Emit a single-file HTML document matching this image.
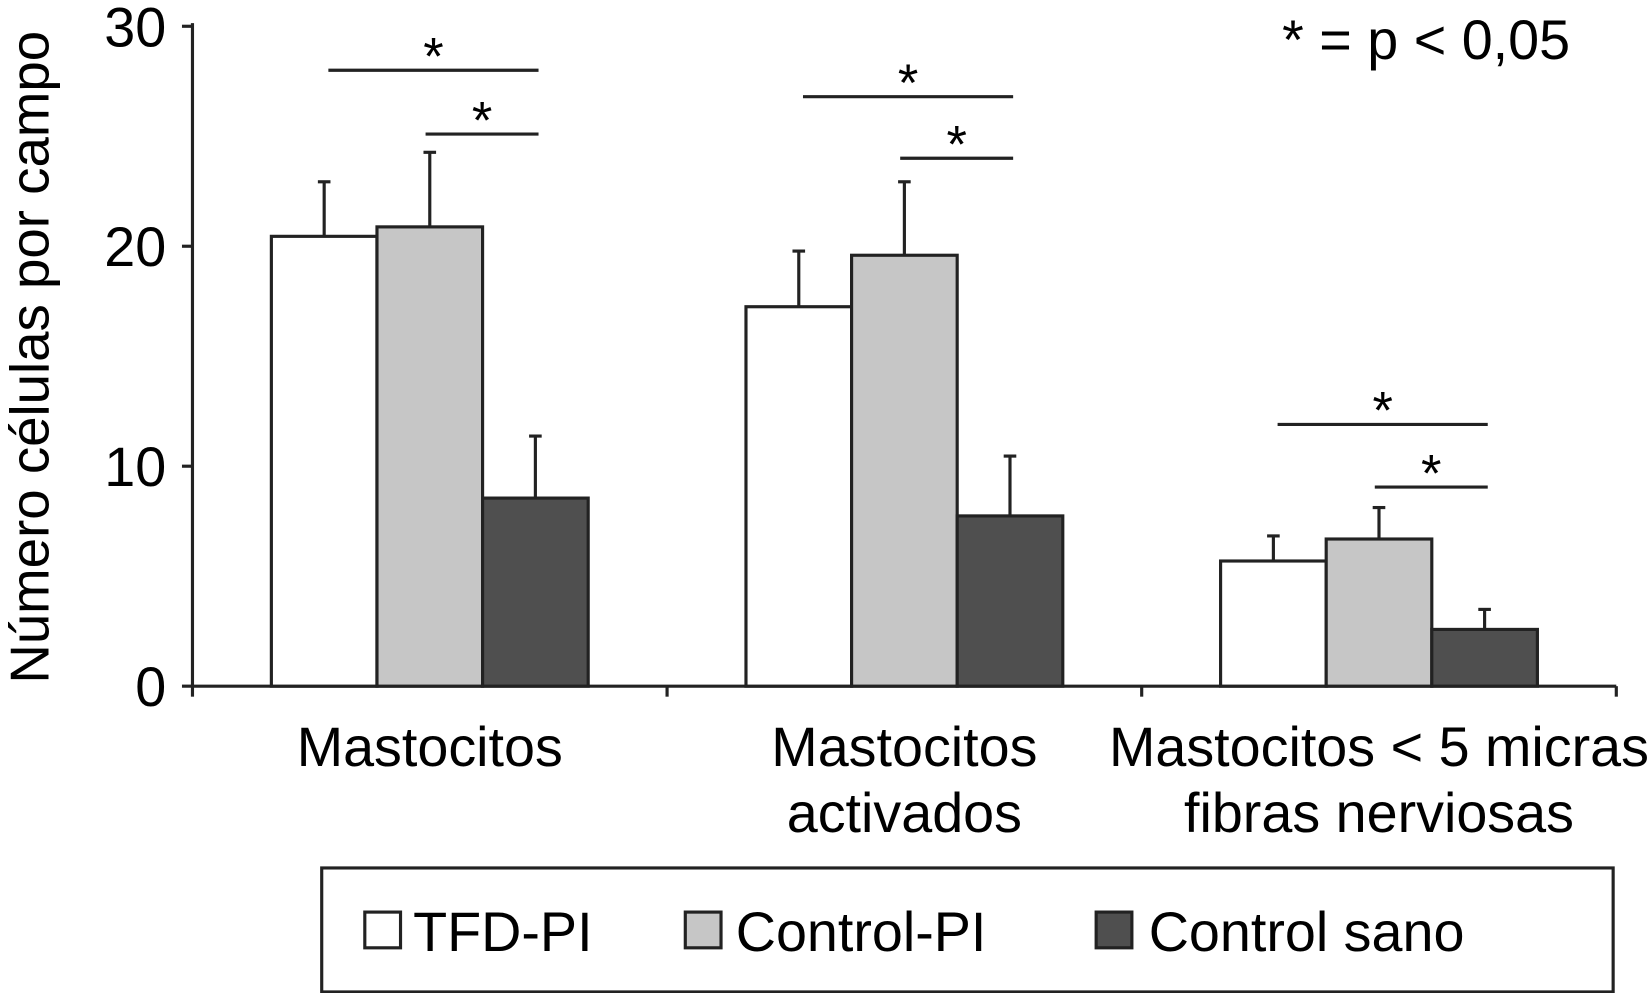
<!DOCTYPE html>
<html><head><meta charset="utf-8"><style>
html,body{margin:0;padding:0;background:#fff}
svg{display:block;font-family:"Liberation Sans",Arial,sans-serif}
</style></head><body>
<svg id="chart" width="1648" height="993" viewBox="0 0 1568 945" xmlns="http://www.w3.org/2000/svg">
<g id="axes"></g>
<g id="bars"></g>
<g id="sig"></g>
<text x="1220" y="56" font-size="53">* = p &lt; 0,05</text>
<text transform="translate(46,340) rotate(-90)" text-anchor="middle" font-size="52">Número células por campo</text>
<g>
<rect x="306" y="826" width="1229" height="118" fill="#fff" stroke="#222" stroke-width="3"/>
<g><rect x="347" y="868" width="34" height="34" fill="#fff" stroke="#222" stroke-width="3"/><text x="393" y="905" font-size="53">TFD-PI</text></g>
<g><rect x="652" y="868" width="34" height="34" fill="#c6c6c6" stroke="#222" stroke-width="3"/><text x="700" y="905" font-size="53">Control-PI</text></g>
<g><rect x="1043" y="868" width="34" height="34" fill="#4f4f4f" stroke="#222" stroke-width="3"/><text x="1093" y="905" font-size="53">Control sano</text></g>
</g>
</svg>
<script>
const categories=[["Mastocitos"],["Mastocitos","activados"],["Mastocitos < 5 micras","fibras nerviosas"]];
const tfdPI=[20.45,17.25,5.69];
const controlPI=[20.88,19.59,6.69];
const controlSano=[8.55,7.74,2.58];
const tfdErr=[2.48,2.53,1.14];
const controlErr=[3.39,3.34,1.43];
const sanoErr=[2.82,2.72,0.91];
const yTicks=[0,10,20,30];
const sigY=[28,25.1,26.8,24,11.9,9.05];

const NS="http://www.w3.org/2000/svg";
const x0=183,xEnd=1538,yBase=653,yTop=25,yMax=30;
const gw=(xEnd-x0)/categories.length, bw=100.5;
const y=v=>yBase-(v/yMax)*(yBase-yTop);
const gc=i=>x0+gw*(i+0.5);
function el(tag,attrs,parent,txt){const e=document.createElementNS(NS,tag);for(const k in attrs)e.setAttribute(k,attrs[k]);if(txt!=null)e.textContent=txt;parent.appendChild(e);return e;}
const axes=document.getElementById('axes'),bars=document.getElementById('bars'),sig=document.getElementById('sig');
let a=el('line',{x1:x0,y1:yTop-3,x2:x0,y2:yBase,stroke:'#222','stroke-width':3},axes);


a=el('line',{x1:x0,y1:yBase,x2:xEnd,y2:yBase,stroke:'#222','stroke-width':3},axes);


yTicks.forEach(t=>{
  el('line',{x1:x0-10,y1:y(t),x2:x0,y2:y(t),stroke:'#222','stroke-width':3},axes);
  const tx=el('text',{x:x0-25,y:y(t)+19,'text-anchor':'end','font-size':53},axes,String(t));
  
  
});
for(let i=0;i<=categories.length;i++){el('line',{x1:x0+gw*i,y1:yBase,x2:x0+gw*i,y2:yBase+10,stroke:'#222','stroke-width':3},axes);}
categories.forEach((c,i)=>{c.forEach((ln,j)=>{
  const tx=el('text',{x:gc(i),y:729+j*63,'text-anchor':'middle','font-size':53},axes,ln);
  
  
});});
const series=[[tfdPI,tfdErr,'#fff','tfd-pi'],[controlPI,controlErr,'#c6c6c6','control-pi'],[controlSano,sanoErr,'#4f4f4f','control-sano']];
categories.forEach((c,i)=>{
  series.forEach((s,k)=>{
    const bx=gc(i)-1.5*bw+k*bw, v=s[0][i], e=s[1][i], cx=bx+bw/2;
    el('line',{x1:cx,y1:y(v),x2:cx,y2:y(v+e),stroke:'#222','stroke-width':3},bars);
    el('line',{x1:cx-6,y1:y(v+e),x2:cx+6,y2:y(v+e),stroke:'#222','stroke-width':3},bars);
    const r=el('rect',{x:bx,y:y(v),width:bw,height:yBase-y(v),fill:s[2],stroke:'#222','stroke-width':3},bars);
    
    
  });
  [0,1].forEach(j=>{
    const from=gc(i)-bw+j*bw+(j===0?4:-4), to=gc(i)+bw+3;
    const yy=y(sigY[i*2+j]);
    el('line',{x1:from,y1:yy,x2:to,y2:yy,stroke:'#222','stroke-width':3},sig);
    const st=el('text',{x:(from+to)/2,y:yy+4,'text-anchor':'middle','font-size':50},sig,'*');
    
    
  });
});
</script>
</body></html>
